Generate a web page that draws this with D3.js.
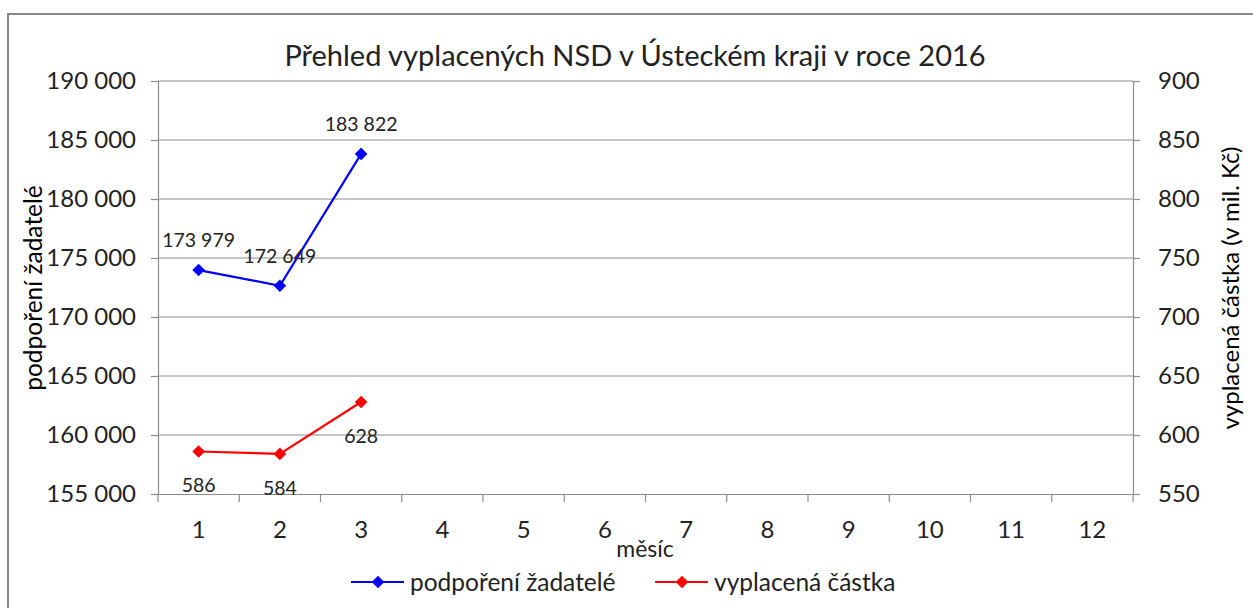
<!DOCTYPE html>
<html><head><meta charset="utf-8">
<script src="https://cdn.jsdelivr.net/npm/d3@7"></script>
<style>body{margin:0;background:#fff}svg{display:block;font-family:Lato,"Open Sans",sans-serif}</style>
</head><body>
<svg id="c" width="1253" height="608"></svg>
<script>
const months = ["1","2","3","4","5","6","7","8","9","10","11","12"];
const applicants = [173979, 172649, 183822];
const amounts = [586, 584, 628];
const leftTicks = [155000,160000,165000,170000,175000,180000,185000,190000];
const rightTicks = [550,600,650,700,750,800,850,900];
const title = "Přehled vyplacených NSD v Ústeckém kraji v roce 2016";
const seriesNames = ["podpoření žadatelé","vyplacená částka"];

const svg = d3.select("#c");
const L=158, R=1133, T=81, B=494;
const fmt = v => d3.format(",")(v).replace(/,/g," ");

svg.append("rect").attr("x",8).attr("y",14).attr("width",1260).attr("height",620)
  .attr("fill","#fff").attr("stroke","#868686").attr("stroke-width",2);

const x = d3.scaleBand().domain(months).range([L,R]).padding(0);
const yL = d3.scaleLinear().domain([155000,190000]).range([B,T]);
const yR = d3.scaleLinear().domain([550,900]).range([B,T]);

svg.append("g").selectAll("line").data(leftTicks.slice(1)).join("line")
  .attr("x1",L).attr("x2",R).attr("y1",d=>yL(d)).attr("y2",d=>yL(d))
  .attr("stroke","#8c8c8c").attr("stroke-width",1.2);

const gc = "#8c8c8c";
const ga = svg.append("g").attr("transform",`translate(${L},0)`)
  .call(d3.axisLeft(yL).tickValues(leftTicks).tickFormat(fmt).tickSize(7).tickPadding(15));
const gr = svg.append("g").attr("transform",`translate(${R},0)`)
  .call(d3.axisRight(yR).tickValues(rightTicks).tickSize(7).tickPadding(18));
const gb = svg.append("g").attr("transform",`translate(0,${B})`)
  .call(d3.axisBottom(x).tickSize(0).tickPadding(26));
gb.selectAll(".tick").append("line").attr("x1",-x.bandwidth()/2).attr("x2",-x.bandwidth()/2).attr("y2",8).attr("stroke",gc).attr("stroke-width",1.2);
gb.append("line").attr("x1",R).attr("x2",R).attr("y2",8).attr("stroke",gc).attr("stroke-width",1.2);
[ga,gr,gb].forEach(g=>{
  g.select(".domain").attr("stroke",gc).attr("stroke-width",1.2);
  g.selectAll(".tick line").attr("stroke",gc).attr("stroke-width",1.2);
  g.selectAll("text").attr("font-size",24).attr("fill","#222").attr("font-family","Lato");
});
gb.selectAll(".tick text").attr("dy","0.35em").attr("y",36);

const cx = d => x(months[d]) + x.bandwidth()/2;
const diamond = d3.symbol().type(d3.symbolSquare).size(80);

function series(vals, y, color, labelDy){
  const g = svg.append("g");
  g.append("path").datum(vals).attr("fill","none").attr("stroke",color).attr("stroke-width",2.2)
    .attr("d", d3.line().x((d,i)=>cx(i)).y(d=>y(d)));
  g.selectAll("path.m").data(vals).join("path").attr("class","m")
    .attr("d",diamond).attr("transform",(d,i)=>`translate(${cx(i)},${y(d)}) rotate(45)`)
    .attr("fill",color);
  g.selectAll("text").data(vals).join("text")
    .attr("x",(d,i)=>cx(i)).attr("y",d=>y(d)+labelDy).attr("text-anchor","middle")
    .attr("dy","0.35em").attr("font-size",19.5).attr("fill","#222").text(d=>fmt(d));
}
series(applicants, yL, "#0000ff", -30);
series(amounts, yR, "#ff0000", 34);

svg.append("text").attr("x",635).attr("y",56).attr("text-anchor","middle").attr("dy","0.35em")
  .attr("font-size",29).attr("fill","#222").text(title);
svg.append("text").attr("transform","translate(33,288) rotate(-90)").attr("text-anchor","middle")
  .attr("dy","0.35em").attr("font-size",24.5).attr("fill","#000").text(seriesNames[0]);
svg.append("text").attr("transform","translate(1231,288) rotate(-90)").attr("text-anchor","middle")
  .attr("dy","0.35em").attr("font-size",24).attr("fill","#000").text("vyplacená částka (v mil. Kč)");
svg.append("text").attr("x",645).attr("y",549).attr("text-anchor","middle").attr("dy","0.35em")
  .attr("font-size",23).attr("fill","#222").text("měsíc");

const leg = [{n:seriesNames[0],c:"#0000ff",x:351},{n:seriesNames[1],c:"#ff0000",x:655}];
const lg = svg.append("g").selectAll("g").data(leg).join("g").attr("transform",d=>`translate(${d.x},582)`);
lg.append("line").attr("x2",53).attr("stroke",d=>d.c).attr("stroke-width",2.2);
lg.append("path").attr("d",diamond).attr("transform","translate(27,0) rotate(45)").attr("fill",d=>d.c);
lg.append("text").attr("x",59).attr("dy","0.35em").attr("font-size",24.5).attr("fill","#222").text(d=>d.n);
</script>
</body></html>
